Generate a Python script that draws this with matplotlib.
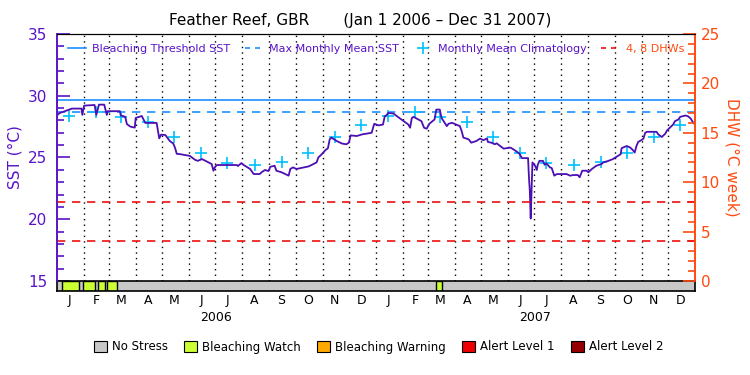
import pandas as pd
import matplotlib
matplotlib.use('Agg')
import matplotlib.pyplot as plt
import matplotlib.transforms as mtransforms
from matplotlib.lines import Line2D
from matplotlib.patches import Patch
from matplotlib.ticker import MultipleLocator

start = pd.Timestamp('2006-01-01')
end = pd.Timestamp('2008-01-01')

# SST: day offset from Jan 1 2006, value in deg C
sst_day = [0, 3, 9, 17, 28, 29, 31, 43, 45, 48, 54, 57, 58, 72, 73, 78, 80, 84, 89, 90,
           97, 101, 114, 117, 119, 124, 129, 133, 135, 137, 141, 152, 158, 161, 166, 177,
           179, 181, 183, 206, 207, 211, 213, 217, 221, 225, 232, 234, 238, 242, 244, 249,
           251, 257, 261, 265, 267, 270, 274, 288, 297, 299, 303, 307, 310, 312, 314, 320,
           326, 331, 334, 336, 343, 349, 360, 363, 368, 373, 375, 377, 379, 385, 389, 402,
           404, 406, 408, 417, 420, 423, 426, 432, 434, 438, 440, 446, 448, 452, 461, 463,
           465, 471, 474, 480, 484, 488, 492, 493, 497, 501, 503, 507, 511, 519, 522, 526,
           529, 532, 539, 540, 541, 542, 543, 544, 547, 549, 550, 552, 556, 558, 560, 564,
           566, 569, 572, 583, 587, 591, 596, 598, 601, 606, 608, 612, 617, 623, 625, 631,
           636, 645, 646, 649, 652, 656, 659, 661, 663, 665, 669, 671, 673, 675, 686, 688,
           692, 696, 698, 702, 705, 707, 711, 713, 719, 722, 725, 728, 729]
sst_val = [28.42, 28.6, 28.75, 28.96, 28.96, 28.45, 29.2, 29.25, 28.45, 29.28, 29.28, 28.45,
           28.75, 28.75, 28.4, 28.3, 27.7, 27.5, 27.42, 28.2, 28.36, 27.8, 27.8, 26.55, 26.85,
           26.82, 26.34, 26.13, 25.8, 25.3, 25.27, 25.13, 24.81, 24.73, 24.87, 24.47, 23.93,
           24.25, 24.39, 24.39, 24.31, 24.55, 24.42, 24.25, 24.07, 23.66, 23.66, 23.8, 23.99,
           23.9, 24.25, 24.33, 23.93, 23.8, 23.66, 23.53, 24.07, 24.2, 24.07, 24.28, 24.6,
           25.0, 25.27, 25.59, 25.75, 26.47, 26.61, 26.34, 26.13, 26.07, 26.2, 26.79, 26.74,
           26.87, 27.0, 27.73, 27.6, 27.67, 28.34, 28.42, 28.61, 28.56, 28.34, 27.67, 27.41,
           28.2, 28.29, 27.94, 27.41, 27.33, 27.73, 28.08, 28.88, 28.88, 28.2, 27.54, 27.73,
           27.81, 27.54, 27.14, 26.61, 26.47, 26.2, 26.34, 26.53, 26.4, 26.55, 26.26, 26.2,
           26.07, 26.15, 25.93, 25.72, 25.8, 25.67, 25.48, 25.32, 24.95, 24.95, 23.4, 22.3,
           20.06, 22.46, 24.6, 24.33, 23.99, 24.39, 24.73, 24.73, 24.41, 24.52, 24.2, 24.15,
           23.53, 23.66, 23.66, 23.53, 23.58, 23.58, 23.4, 23.93, 23.93, 23.8, 24.07, 24.33,
           24.47, 24.6, 24.73, 24.87, 25.27, 25.75, 25.85, 25.93, 25.8, 25.59, 25.4, 25.93,
           26.26, 26.42, 26.53, 27.0, 27.08, 27.08, 26.87, 26.66, 26.93, 27.19, 27.46, 27.67,
           27.94, 28.08, 28.29, 28.4, 28.34, 28.16, 27.81, 27.75]

# monthly mean climatology (Jan..Dec)
clim_val = [28.4, 28.68, 28.3, 27.85, 26.65, 25.4, 24.55, 24.4, 24.6, 25.4, 26.65, 27.65]
mmm = 28.68
threshold = 29.68
dhw_levels = [4, 8]

# bleaching watch periods in the stress bar
watch_start = ['2006-01-07', '2006-01-31', '2006-02-17', '2006-02-27', '2007-03-11']
watch_end = ['2006-01-26', '2006-02-14', '2006-02-25', '2006-03-11', '2007-03-18']

stress_labels = ['No Stress', 'Bleaching Watch', 'Bleaching Warning', 'Alert Level 1', 'Alert Level 2']
stress_colors = ['#c8c8c8', '#ccff33', '#ffaa00', '#ee0000', '#960000']

purple = '#5a14c8'
line_col = '#4b0fb4'
orange = '#ff4a10'
blue = '#1e90ff'
cyan = '#00c0ff'
red = '#ee1010'

sst_dates = start + pd.to_timedelta(sst_day, unit='D')
month_starts = pd.date_range('2006-02-01', '2007-12-01', freq='MS')
month_mids = pd.date_range('2006-01-01', periods=24, freq='MS') + pd.Timedelta(days=14)

fig = plt.figure(figsize=(7.5, 3.75), dpi=100)
ax = fig.add_axes([57 / 750, 1 - 281 / 375, 638 / 750, 247 / 375])
bar = fig.add_axes([57 / 750, 1 - 291 / 375, 638 / 750, 10 / 375], sharex=ax)

ax.set_xlim(start, end)
ax.set_ylim(15, 35)
ax.vlines(month_starts, 15, 35, colors='black', linestyles=(0, (1, 3)), linewidth=1)
ax.axhline(threshold, color=blue, linewidth=1.2)
ax.axhline(mmm, color=blue, linewidth=1.2, linestyle=(0, (5, 4)))
ax.plot(month_mids, clim_val * 2, linestyle='none', marker='+', markersize=9,
        markeredgewidth=1.2, color=cyan)
ax.plot(sst_dates, sst_val, color=line_col, linewidth=1.3)

ax2 = ax.twinx()
ax2.set_ylim(0, 25)
for lv in dhw_levels:
    ax2.axhline(lv, color=red, linewidth=1.2, linestyle=(0, (5, 4)))

ax.yaxis.set_major_locator(MultipleLocator(5))
ax.yaxis.set_minor_locator(MultipleLocator(1))
ax2.yaxis.set_major_locator(MultipleLocator(5))
ax2.yaxis.set_minor_locator(MultipleLocator(1))
ax.tick_params(axis='y', which='major', direction='in', length=9, width=1.2,
               colors=purple, labelsize=11, pad=7)
ax.tick_params(axis='y', which='minor', direction='in', length=5, width=1.2, colors=purple)
ax2.tick_params(axis='y', which='major', direction='in', length=9, width=1.2,
                colors=orange, labelsize=11, pad=4)
ax2.tick_params(axis='y', which='minor', direction='in', length=5, width=1.2, colors=orange)
ax.tick_params(axis='x', bottom=False, labelbottom=False)
ax2.tick_params(axis='x', bottom=False, labelbottom=False)

for a in (ax, ax2):
    a.spines['left'].set_color(purple)
    a.spines['left'].set_linewidth(1.2)
    a.spines['right'].set_color(orange)
    a.spines['right'].set_linewidth(1.2)
    a.spines['top'].set_color('black')
    a.spines['bottom'].set_visible(False)

ax.set_ylabel('SST (°C)', color=purple, fontsize=11, labelpad=4)
ax2.set_ylabel('DHW (°C week)', color=orange, fontsize=11, rotation=270, labelpad=14)

handles = [Line2D([], [], color=blue, linewidth=1.2),
           Line2D([], [], color=blue, linewidth=1.2, linestyle=(0, (3, 3))),
           Line2D([], [], color=cyan, linestyle='none', marker='+', markersize=8, markeredgewidth=1.2),
           Line2D([], [], color=red, linewidth=1.2, linestyle=(0, (3, 3)))]
labels = ['Bleaching Threshold SST', 'Max Monthly Mean SST', 'Monthly Mean Climatology', '4, 8 DHWs']
ax2.legend(handles, labels, loc='upper center', bbox_to_anchor=(0.5, 1.0), ncol=4,
           frameon=False, fontsize=8, handlelength=1.6, handletextpad=0.6,
           columnspacing=1.3, labelcolor=[purple, purple, purple, orange])

# stress bar
bar.set_ylim(0, 1)
bar.axvspan(start, end, color=stress_colors[0])
for s, e in zip(watch_start, watch_end):
    bar.axvspan(pd.Timestamp(s), pd.Timestamp(e), facecolor=stress_colors[1],
                edgecolor='black', linewidth=1)
bar.set_yticks([])
bar.set_xticks(month_mids)
bar.set_xticklabels([d.strftime('%B')[0] for d in month_mids], fontsize=9)
bar.tick_params(axis='x', length=0, pad=2)
for sp in bar.spines.values():
    sp.set_color('black')
    sp.set_linewidth(1.2)

trans = mtransforms.blended_transform_factory(bar.transData, bar.transAxes)
bar.text(pd.Timestamp('2006-07-02'), -2.6, '2006', transform=trans, ha='center', va='center', fontsize=9)
bar.text(pd.Timestamp('2007-07-02'), -2.6, '2007', transform=trans, ha='center', va='center', fontsize=9)

fig.text(0.48, 1 - 20 / 375, 'Feather Reef, GBR       (Jan 1 2006 – Dec 31 2007)',
         ha='center', va='center', fontsize=11)

patches = [Patch(facecolor=c, edgecolor='black', linewidth=0.8) for c in stress_colors]
fig.legend(patches, stress_labels, loc='center', bbox_to_anchor=(0.505, 1 - 347 / 375),
           ncol=5, frameon=False, fontsize=8.5, handlelength=1.1, handleheight=1.1,
           handletextpad=0.4, columnspacing=1.4)

fig.savefig('out.png', dpi=100)
